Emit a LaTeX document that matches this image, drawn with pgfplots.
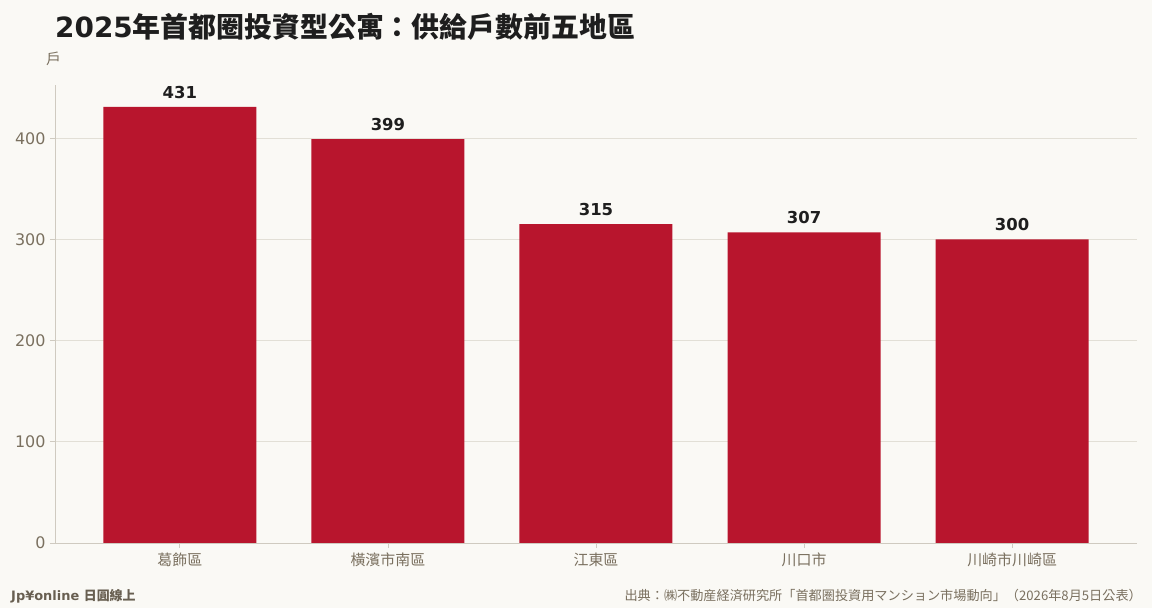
\documentclass[border=0pt]{standalone}
\usepackage{fontspec}
\usepackage{pgfplots}
\pgfplotsset{compat=1.18}
\setmainfont{DejaVu Sans}
\newfontfamily\cjk{Noto Sans CJK TC}

\definecolor{bg}{HTML}{FAF9F5}
\definecolor{barred}{HTML}{B8152D}
\definecolor{ticktxt}{HTML}{7A705F}
\definecolor{spine}{HTML}{CFCAC0}
\definecolor{gridc}{HTML}{E2DFD6}
\definecolor{titlec}{HTML}{1E1E1E}

\begin{document}
\begin{tikzpicture}
\fill[bg] (0,0) rectangle (1152bp,608bp);
\useasboundingbox (0,0) rectangle (1152bp,608bp);

\begin{axis}[
    at={(55bp,65bp)}, anchor=south west,
    scale only axis,
    width=1082bp, height=458bp,
    ybar, bar width=153bp,
    xmin=-0.6, xmax=4.6,
    ymin=0, ymax=452.6,
    xtick=data,
    xticklabels={葛飾區,橫濱市南區,江東區,川口市,川崎市川崎區},
    xticklabel style={font=\cjk\fontsize{15}{17}\selectfont, text=ticktxt, yshift=-1bp},
    ytick={0,100,200,300,400},
    yticklabel style={font=\fontsize{16}{18}\selectfont, text=ticktxt, xshift=-1bp},
    /pgf/number format/assume math mode=true,
    axis x line*=bottom, axis y line*=left,
    axis line style={spine, line width=0.8bp},
    tick style={spine, line width=0.8bp},
    tick align=outside, major tick length=5bp,
    ymajorgrids, grid style={gridc, line width=0.8bp},
    nodes near coords,
    nodes near coords style={font=\bfseries\fontsize{16.5}{19}\selectfont, text=titlec, yshift=5bp},
]
\addplot[fill=barred, draw=none] coordinates {(0,431) (1,399) (2,315) (3,307) (4,300)};
\end{axis}

\node[anchor=base west, text=titlec, inner sep=0] at (55bp,570bp)
  {\fontsize{28}{31}\selectfont\bfseries 2025{\cjk 年首都圈投資型公寓：供給戶數前五地區}};
\node[anchor=base west, text=ticktxt, inner sep=0] at (46bp,543bp)
  {\cjk\fontsize{15}{17}\selectfont 戶};
\node[anchor=base west, text=ticktxt!85!black, inner sep=0] at (11bp,8bp)
  {\fontsize{13}{15}\selectfont\bfseries Jp¥online {\cjk 日圓線上}};
\node[anchor=base east, text=ticktxt, inner sep=0] at (1142bp,8bp)
  {\cjk\fontsize{13.2}{15}\selectfont 出典：㈱不動産経済研究所「首都圏投資用マンション市場動向」（2026年8月5日公表）};
\end{tikzpicture}
\end{document}
